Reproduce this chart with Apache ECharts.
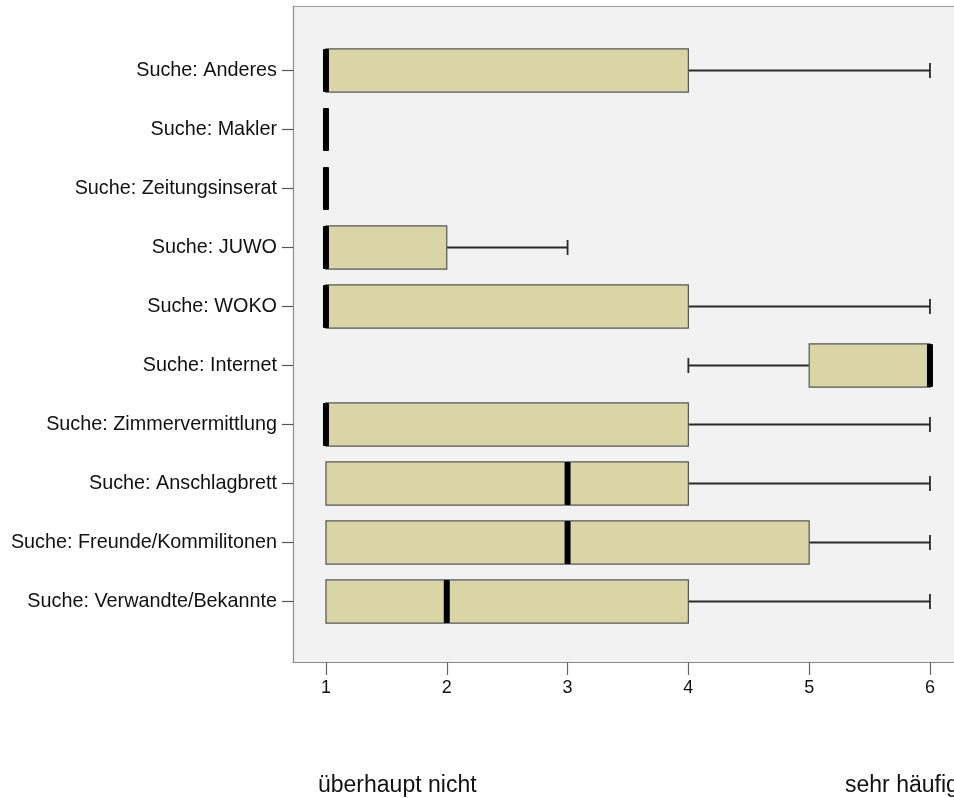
<!DOCTYPE html>
<html lang="de">
<head>
    <meta charset="UTF-8">
    <script src="https://cdn.jsdelivr.net/npm/echarts@6/dist/echarts.min.js"></script>
    <title>Suche</title>
    <style>
        html, body { margin: 0; padding: 0; background: #fff; }
        #chart { width: 954px; height: 798px; }
    </style>
</head>
<body>
<div id="chart"></div>
<script>
    // Kategorien (von oben nach unten)
    var categories = [
        'Suche: Anderes',
        'Suche: Makler',
        'Suche: Zeitungsinserat',
        'Suche: JUWO',
        'Suche: WOKO',
        'Suche: Internet',
        'Suche: Zimmervermittlung',
        'Suche: Anschlagbrett',
        'Suche: Freunde/Kommilitonen',
        'Suche: Verwandte/Bekannte'
    ];
    // Kennwerte je Kategorie
    var mins    = [1, 1, 1, 1, 1, 4, 1, 1, 1, 1];
    var q1s     = [1, 1, 1, 1, 1, 5, 1, 1, 1, 1];
    var medians = [1, 1, 1, 1, 1, 6, 1, 3, 3, 2];
    var q3s     = [4, 1, 1, 2, 4, 6, 4, 4, 5, 4];
    var maxs    = [6, 1, 1, 3, 6, 6, 6, 6, 6, 6];
    var tickValues = [1, 2, 3, 4, 5, 6];
    var lowLabel = 'überhaupt nicht';
    var highLabel = 'sehr häufig';

    var data = categories.map(function (c, i) {
        return [i, mins[i], q1s[i], medians[i], q3s[i], maxs[i]];
    });

    var font = '"Liberation Sans", Arial, Helvetica, sans-serif';

    function renderBox(params, api) {
        var ci = api.value(0);
        var pMin = api.coord([api.value(1), ci]);
        var pQ1 = api.coord([api.value(2), ci]);
        var pMed = api.coord([api.value(3), ci]);
        var pQ3 = api.coord([api.value(4), ci]);
        var pMax = api.coord([api.value(5), ci]);
        var h = api.size([0, 1])[1] * 0.73;
        var y = pMed[1];
        var capH = 15;
        var children = [];
        var whisker = { stroke: '#2a2a2a', lineWidth: 1.8 };
        if (pMax[0] > pQ3[0]) {
            children.push({ type: 'line', shape: { x1: pQ3[0], y1: y, x2: pMax[0], y2: y }, style: whisker });
            children.push({ type: 'line', shape: { x1: pMax[0], y1: y - capH / 2, x2: pMax[0], y2: y + capH / 2 }, style: whisker });
        }
        if (pMin[0] < pQ1[0]) {
            children.push({ type: 'line', shape: { x1: pMin[0], y1: y, x2: pQ1[0], y2: y }, style: whisker });
            children.push({ type: 'line', shape: { x1: pMin[0], y1: y - capH / 2, x2: pMin[0], y2: y + capH / 2 }, style: whisker });
        }
        if (pQ3[0] > pQ1[0]) {
            children.push({
                type: 'rect',
                shape: { x: pQ1[0], y: y - h / 2, width: pQ3[0] - pQ1[0], height: h },
                style: { fill: '#d9d5a7', stroke: '#555', lineWidth: 1.2 }
            });
        }
        children.push({
            type: 'rect',
            shape: { x: pMed[0] - 3, y: y - h / 2, width: 6, height: h, r: 1 },
            style: { fill: '#000' }
        });
        return { type: 'group', children: children };
    }

    var myChart = echarts.init(document.getElementById('chart'));
    var option = {
        animation: false,
        backgroundColor: '#fff',
        grid: [
            { left: 293, top: 41, right: 0, height: 590, show: false },
            { left: 293, top: 6, right: 0, bottom: 136, show: true,
              backgroundColor: '#f2f2f2', borderWidth: 0, z: 0 }
        ],
        xAxis: [
            {
                type: 'value', gridIndex: 0, min: 0.727, max: 6.199,
                position: 'bottom', offset: 31,
                splitLine: { show: false },
                axisLine: { show: true, onZero: false, lineStyle: { color: '#8a8a8a', width: 1.2 } },
                axisTick: { show: true, length: 13, customValues: tickValues,
                            lineStyle: { color: '#666', width: 1.2 } },
                axisLabel: { customValues: tickValues, margin: 17, fontSize: 18,
                             color: '#111', fontFamily: font }
            },
            {
                type: 'value', gridIndex: 1, position: 'top',
                axisLine: { show: true, onZero: false, lineStyle: { color: '#a0a0a0', width: 1.2 } },
                axisTick: { show: false }, axisLabel: { show: false }, splitLine: { show: false }
            }
        ],
        yAxis: [
            {
                type: 'category', gridIndex: 0, data: categories, inverse: true,
                axisLine: { show: false },
                axisTick: { show: true, length: 11, alignWithLabel: true,
                            lineStyle: { color: '#555', width: 1.2 } },
                axisLabel: { margin: 16, fontSize: 19.8, color: '#111', fontFamily: font }
            },
            {
                type: 'value', gridIndex: 1, position: 'left',
                axisLine: { show: true, onZero: false, lineStyle: { color: '#8a8a8a', width: 1.2 } },
                axisTick: { show: false }, axisLabel: { show: false }, splitLine: { show: false }
            }
        ],
        series: [{
            type: 'custom',
            xAxisIndex: 0,
            yAxisIndex: 0,
            renderItem: renderBox,
            encode: { x: [1, 2, 3, 4, 5], y: 0 },
            data: data,
            z: 5
        }],
        graphic: [
            { type: 'text', left: 318, top: 774,
              style: { text: lowLabel, fontSize: 23, fill: '#111', fontFamily: font } },
            { type: 'text', left: 845, top: 774,
              style: { text: highLabel, fontSize: 23, fill: '#111', fontFamily: font } }
        ]
    };
    myChart.setOption(option);
</script>
</body>
</html>
